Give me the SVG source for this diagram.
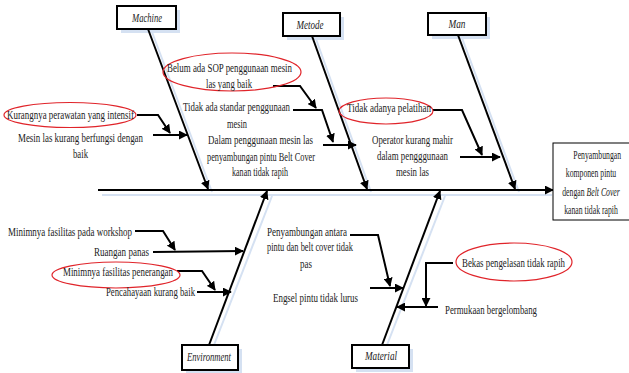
<svg xmlns="http://www.w3.org/2000/svg" width="629" height="373" viewBox="0 0 629 373">
<style>
  .t{font-family:"Liberation Serif","Times New Roman",serif;font-size:12.5px;fill:#222}
  .tm{font-family:"Liberation Serif","Times New Roman",serif;font-size:12.5px;fill:#222;text-anchor:middle}
  .bl{font-family:"Liberation Serif","Times New Roman",serif;font-size:12.5px;font-style:italic;fill:#222;text-anchor:middle}
  .box{fill:#fff;stroke:#000;stroke-width:2}
  .sh{fill:#d5e1f2;stroke:none}
  .shl{stroke:#d5e1f2;stroke-width:2;fill:none}
  .bone{stroke:#000;stroke-width:2;fill:none;marker-end:url(#ah)}
  .c{stroke:#000;stroke-width:2;fill:none;marker-end:url(#ah)}
  .ell{fill:none;stroke:#e0242a;stroke-width:1.2}
</style>
<defs>
  <marker id="ah" viewBox="0 0 10 10" refX="9" refY="5" markerWidth="9" markerHeight="9" markerUnits="userSpaceOnUse" orient="auto">
    <path d="M0,0 L10,5 L0,10 z" fill="#000"/>
  </marker>
</defs>
<rect width="629" height="373" fill="#fff"/>

<g id="shadows">
  <line class="shl" x1="102" y1="195" x2="552" y2="195"/>
  <line class="shl" x1="152" y1="32" x2="212" y2="192"/>
  <line class="shl" x1="316" y1="39" x2="371" y2="192"/>
  <line class="shl" x1="462" y1="38" x2="519" y2="192"/>
  <line class="shl" x1="214" y1="345" x2="272" y2="196"/>
  <line class="shl" x1="387" y1="345" x2="445" y2="196"/>
  <rect class="sh" x="121" y="10" width="59" height="23"/>
  <rect class="sh" x="287" y="17" width="57" height="23"/>
  <rect class="sh" x="432" y="17" width="58" height="22"/>
  <rect class="sh" x="186" y="349" width="56" height="25"/>
  <rect class="sh" x="356" y="349" width="57" height="23"/>
</g>

<g id="connectors">
  <line class="bone" x1="98" y1="190" x2="553" y2="190"/>
  <line class="bone" x1="148" y1="29" x2="208" y2="189"/>
  <line class="bone" x1="312" y1="36" x2="367" y2="189"/>
  <line class="bone" x1="458" y1="35" x2="515" y2="189"/>
  <line class="bone" x1="209" y1="345" x2="267" y2="191"/>
  <line class="bone" x1="382" y1="345" x2="440" y2="191"/>
  <polyline class="c" points="137,115 158,115 170,133"/>
  <polyline class="c" points="153,135 187,135"/>
  <polyline class="c" points="273,86 300,86 316,108"/>
  <polyline class="c" points="293,110 322,110 333,142"/>
  <polyline class="c" points="323,145 356,145"/>
  <polyline class="c" points="433,110 462,110 482,155"/>
  <polyline class="c" points="460,157 500,157"/>
  <polyline class="c" points="135,231 163,231 175,250"/>
  <polyline class="c" points="153,252 243,251"/>
  <polyline class="c" points="177,271 202,271 215,290"/>
  <polyline class="c" points="197,292 231,292"/>
  <polyline class="c" points="350,235 378,235 390,286"/>
  <polyline class="c" points="370,288 403,288"/>
  <polyline class="c" points="453,263 426,263 426,306"/>
  <polyline class="c" points="438,307 397,307"/>
</g>

<g id="machine">
  <rect class="box" x="117" y="6" width="59" height="23"/>
  <text class="bl" x="147" y="22" textLength="30" lengthAdjust="spacingAndGlyphs">Machine</text>
</g>
<g id="metode">
  <rect class="box" x="283" y="13" width="57" height="23"/>
  <text class="bl" x="310" y="29" textLength="27" lengthAdjust="spacingAndGlyphs">Metode</text>
</g>
<g id="man">
  <rect class="box" x="428" y="13" width="58" height="22"/>
  <text class="bl" x="457" y="28" textLength="17" lengthAdjust="spacingAndGlyphs">Man</text>
</g>
<g id="environment">
  <rect class="box" x="182" y="345" width="56" height="25"/>
  <text class="bl" x="209" y="361" textLength="44" lengthAdjust="spacingAndGlyphs">Environment</text>
</g>
<g id="material">
  <rect class="box" x="352" y="345" width="57" height="23"/>
  <text class="bl" x="381" y="360" textLength="32" lengthAdjust="spacingAndGlyphs">Material</text>
</g>

<g id="effect">
  <rect x="553" y="143" width="80" height="77" fill="#fff" stroke="#000" stroke-width="1"/>
  <g transform="translate(591,0) scale(0.62,1)">
    <text class="tm" x="10" y="159">Penyambungan</text>
    <text class="tm" x="0" y="177">komponen pintu</text>
    <text class="tm" x="0" y="196">dengan <tspan font-style="italic">Belt Cover</tspan></text>
    <text class="tm" x="0" y="214">kanan tidak rapih</text>
  </g>
</g>

<g id="machine-causes">
  <ellipse class="ell" cx="70" cy="115" rx="66" ry="12.5"/>
  <text class="t" x="7" y="119" textLength="127" lengthAdjust="spacingAndGlyphs">Kurangnya perawatan yang intensif</text>
  <text class="t" x="18" y="142" textLength="125" lengthAdjust="spacingAndGlyphs">Mesin las kurang berfungsi dengan</text>
  <text class="t" x="73" y="158" textLength="15" lengthAdjust="spacingAndGlyphs">baik</text>
</g>

<g id="metode-causes">
  <ellipse class="ell" cx="232" cy="72" rx="69" ry="19"/>
  <text class="t" x="167" y="72" textLength="125" lengthAdjust="spacingAndGlyphs">Belum ada SOP penggunaan mesin</text>
  <text class="t" x="206" y="88" textLength="46" lengthAdjust="spacingAndGlyphs">las yang baik</text>
  <text class="t" x="183" y="111" textLength="107" lengthAdjust="spacingAndGlyphs">Tidak ada standar penggunaan</text>
  <text class="t" x="227" y="128" textLength="20" lengthAdjust="spacingAndGlyphs">mesin</text>
  <text class="t" x="208" y="144" textLength="105" lengthAdjust="spacingAndGlyphs">Dalam penggunaan mesin las</text>
  <text class="t" x="207" y="161" textLength="108" lengthAdjust="spacingAndGlyphs">penyambungan pintu Belt Cover</text>
  <text class="t" x="232" y="176" textLength="56" lengthAdjust="spacingAndGlyphs">kanan tidak rapih</text>
</g>

<g id="man-causes">
  <ellipse class="ell" cx="386" cy="111" rx="47" ry="13"/>
  <text class="t" x="347" y="112" textLength="84" lengthAdjust="spacingAndGlyphs">Tidak adanya pelatihan</text>
  <text class="t" x="372" y="144" textLength="81" lengthAdjust="spacingAndGlyphs">Operator kurang mahir</text>
  <text class="t" x="377" y="160" textLength="71" lengthAdjust="spacingAndGlyphs">dalam pengggunaan</text>
  <text class="t" x="396" y="176" textLength="33" lengthAdjust="spacingAndGlyphs">mesin las</text>
</g>

<g id="environment-causes">
  <text class="t" x="8" y="236" textLength="124" lengthAdjust="spacingAndGlyphs">Minimnya fasilitas pada workshop</text>
  <text class="t" x="94" y="256" textLength="55" lengthAdjust="spacingAndGlyphs">Ruangan panas</text>
  <ellipse class="ell" cx="116" cy="275" rx="64" ry="13"/>
  <text class="t" x="63" y="276" textLength="110" lengthAdjust="spacingAndGlyphs">Minimnya fasilitas penerangan</text>
  <text class="t" x="106" y="296" textLength="89" lengthAdjust="spacingAndGlyphs">Pencahayaan kurang baik</text>
</g>

<g id="material-causes">
  <text class="t" x="267" y="236" textLength="80" lengthAdjust="spacingAndGlyphs">Penyambungan antara</text>
  <text class="t" x="267" y="251" textLength="86" lengthAdjust="spacingAndGlyphs">pintu dan belt cover tidak</text>
  <text class="t" x="300" y="268" textLength="12" lengthAdjust="spacingAndGlyphs">pas</text>
  <text class="t" x="273" y="302" textLength="85" lengthAdjust="spacingAndGlyphs">Engsel pintu tidak lurus</text>
  <ellipse class="ell" cx="514" cy="262" rx="58" ry="19"/>
  <text class="t" x="462" y="267" textLength="103" lengthAdjust="spacingAndGlyphs">Bekas pengelasan tidak rapih</text>
  <text class="t" x="445" y="314" textLength="92" lengthAdjust="spacingAndGlyphs">Permukaan bergelombang</text>
</g>
</svg>
